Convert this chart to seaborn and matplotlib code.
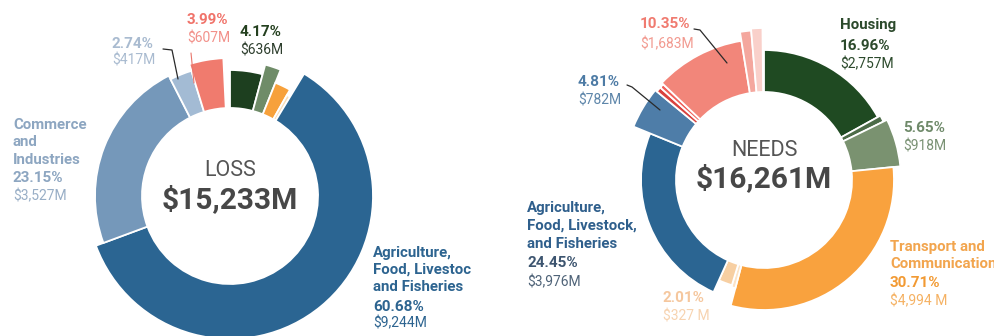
import numpy as np
import matplotlib
matplotlib.use("Agg")
import matplotlib.pyplot as plt
from matplotlib.lines import Line2D
import seaborn as sns

# ---------------- data ----------------
loss_total_label = "$15,233M"
loss_sectors = ["Housing", "Sector (green)", "Transport and Communication", "Sector (pale)",
                "Agriculture, Food, Livestock, and Fisheries", "Commerce and Industries",
                "Sector (light blue)", "Sector (red)"]
loss_share = [4.17, 1.9, 2.1, 0.5, 60.68, 23.15, 2.74, 3.99]
loss_colors = ["#1D3F1F", "#6F8C68", "#F7A13B", "#F8DDB8", "#2B6592", "#7598BA", "#A3BBD4", "#F07B6E"]
loss_outer = [126, 136, 122, 116, 143, 135, 131, 138]

needs_total_label = "$16,261M"
needs_sectors = ["Housing", "Housing (other)", "Sector (green)", "Transport and Communication",
                 "Sector (pale 1)", "Sector (pale 2)", "Agriculture, Food, Livestock, and Fisheries",
                 "Sector (blue)", "Sector (red 1)", "Sector (red 2)", "Sector (salmon)",
                 "Sector (pink 1)", "Sector (pink 2)"]
needs_share = [16.96, 0.8, 5.65, 30.71, 0.6, 2.01, 24.45, 4.81, 0.6, 0.5, 10.35, 1.2, 1.2]
needs_colors = ["#1F4A22", "#4C6B48", "#7A9270", "#F9A23E", "#FCE3C6", "#F7CFA2", "#2B6592",
                "#4E7DA8", "#D9423E", "#F0605A", "#F2867A", "#F4A79E", "#F9D0CA"]
needs_outer = [130, 133, 137, 130, 112, 110, 123, 141, 139, 139, 141, 150, 152]

INNER = 88
W, H = 995, 336
NAME_SIZE = 10.8

sns.set_theme(style="white")
plt.rcParams['font.family'] = ['Roboto', 'DejaVu Sans']

fig = plt.figure(figsize=(W / 100, H / 100), dpi=100)
fig.patch.set_facecolor("white")


def donut(cx, cy, shares, colors, outer, rmax=165):
    ax = fig.add_axes([(cx - rmax) / W, (H - cy - rmax) / H, 2 * rmax / W, 2 * rmax / H],
                      projection="polar")
    widths = np.array(shares) / 100.0 * 2 * np.pi
    starts = np.concatenate([[0.0], np.cumsum(widths)[:-1]])
    heights = np.array(outer, dtype=float) - INNER
    ax.bar(starts, heights, width=widths, bottom=INNER, align="edge",
           color=colors, edgecolor="white", linewidth=1.3)
    ax.set_theta_zero_location("N")
    ax.set_theta_direction(-1)
    ax.set_ylim(0, rmax)
    ax.set_axis_off()
    return ax


donut(230, 196, loss_share, loss_colors, loss_outer)
donut(764, 180, needs_share, needs_colors, needs_outer)

# clip area for the left panel labels (text is cut off at the panel edge)
clip_ax = fig.add_axes([0, 0, 471 / W, 1])
clip_ax.set_axis_off()


def txt(x, y, s, color, size=NAME_SIZE, weight="bold", ha="left", clip=False):
    if clip:
        clip_ax.text(x / W, 1 - y / H, s, color=color, fontsize=size, fontweight=weight,
                     ha=ha, va="center", transform=fig.transFigure, clip_on=True)
    else:
        fig.text(x / W, 1 - y / H, s, color=color, fontsize=size, fontweight=weight,
                 ha=ha, va="center")


def leader(xs, ys, color="#2a2a2a", lw=0.9):
    fig.add_artist(Line2D([x / W for x in xs], [1 - y / H for y in ys], color=color, lw=lw))


# center labels
txt(230, 170, "LOSS", "#555555", 15.5, "normal", "center")
txt(230, 200, loss_total_label, "#474747", 21.5, "bold", "center")
txt(764, 150, "NEEDS", "#555555", 15.5, "normal", "center")
txt(764, 179, needs_total_label, "#474747", 21.5, "bold", "center")

# ---- left (LOSS) labels ----
c = "#8DA6C1"
txt(13, 125, "Commerce", c)
txt(13, 142, "and", c)
txt(13, 160, "Industries", c)
txt(13, 178, "23.15%", c, 11)
txt(13, 196, "$3,527M", "#98AEC6", 10, "normal")

txt(112, 44, "2.74%", "#A9BBD0", 11)
txt(112, 61, "$417M", "#A9BBD0", 10, "normal")
leader([163, 172, 178], [49, 50, 79])

txt(187, 20, "3.99%", "#F0736A", 11)
txt(187, 38, "$607M", "#F2918A", 10, "normal")
leader([191, 194], [53, 83], color="#E9766C", lw=0.8)

txt(240, 32, "4.17%", "#24401F", 11)
txt(240, 50, "$636M", "#2E3F2E", 10, "normal")

c = "#2D6490"
txt(373, 253, "Agriculture,", c, clip=True)
txt(373, 270, "Food, Livestock,", c, clip=True)
txt(373, 287, "and Fisheries", c, clip=True)
txt(373, 307, "60.68%", c, 11, clip=True)
txt(373, 323, "$9,244M", c, 10, "normal", clip=True)

# ---- right (NEEDS) labels ----
txt(640, 24, "10.35%", "#F07B70", 11)
txt(640, 44, "$1,683M", "#F29A90", 10, "normal")
leader([694, 700, 727], [29, 30, 63])

txt(578, 82, "4.81%", "#4D7BA5", 11)
txt(578, 100, "$782M", "#5E86AA", 10, "normal")
leader([627, 632, 660], [85, 87, 110])

c = "#2C4A2C"
txt(840, 25, "Housing", c)
txt(840, 46, "16.96%", c, 11)
txt(840, 64, "$2,757M", c, 10, "normal")

txt(903, 128, "5.65%", "#6F8A6A", 11)
txt(903, 146, "$918M", "#7A9274", 10, "normal")

c = "#2F5F8C"
txt(527, 208, "Agriculture,", c)
txt(527, 226, "Food, Livestock,", c)
txt(527, 244, "and Fisheries", c)
txt(527, 263, "24.45%", "#3D5570", 11)
txt(527, 282, "$3,976M", "#4F6378", 10, "normal")

txt(663, 298, "2.01%", "#F5C79E", 11)
txt(663, 317, "$327 M", "#F7D3B0", 10, "normal")

c = "#F2A54E"
txt(890, 247, "Transport and", c)
txt(890, 264, "Communication", c)
txt(890, 283, "30.71%", "#F29A33", 11)
txt(890, 301, "$4,994 M", "#F5B264", 10, "normal")

fig.savefig("out.png", dpi=100, facecolor="white")
